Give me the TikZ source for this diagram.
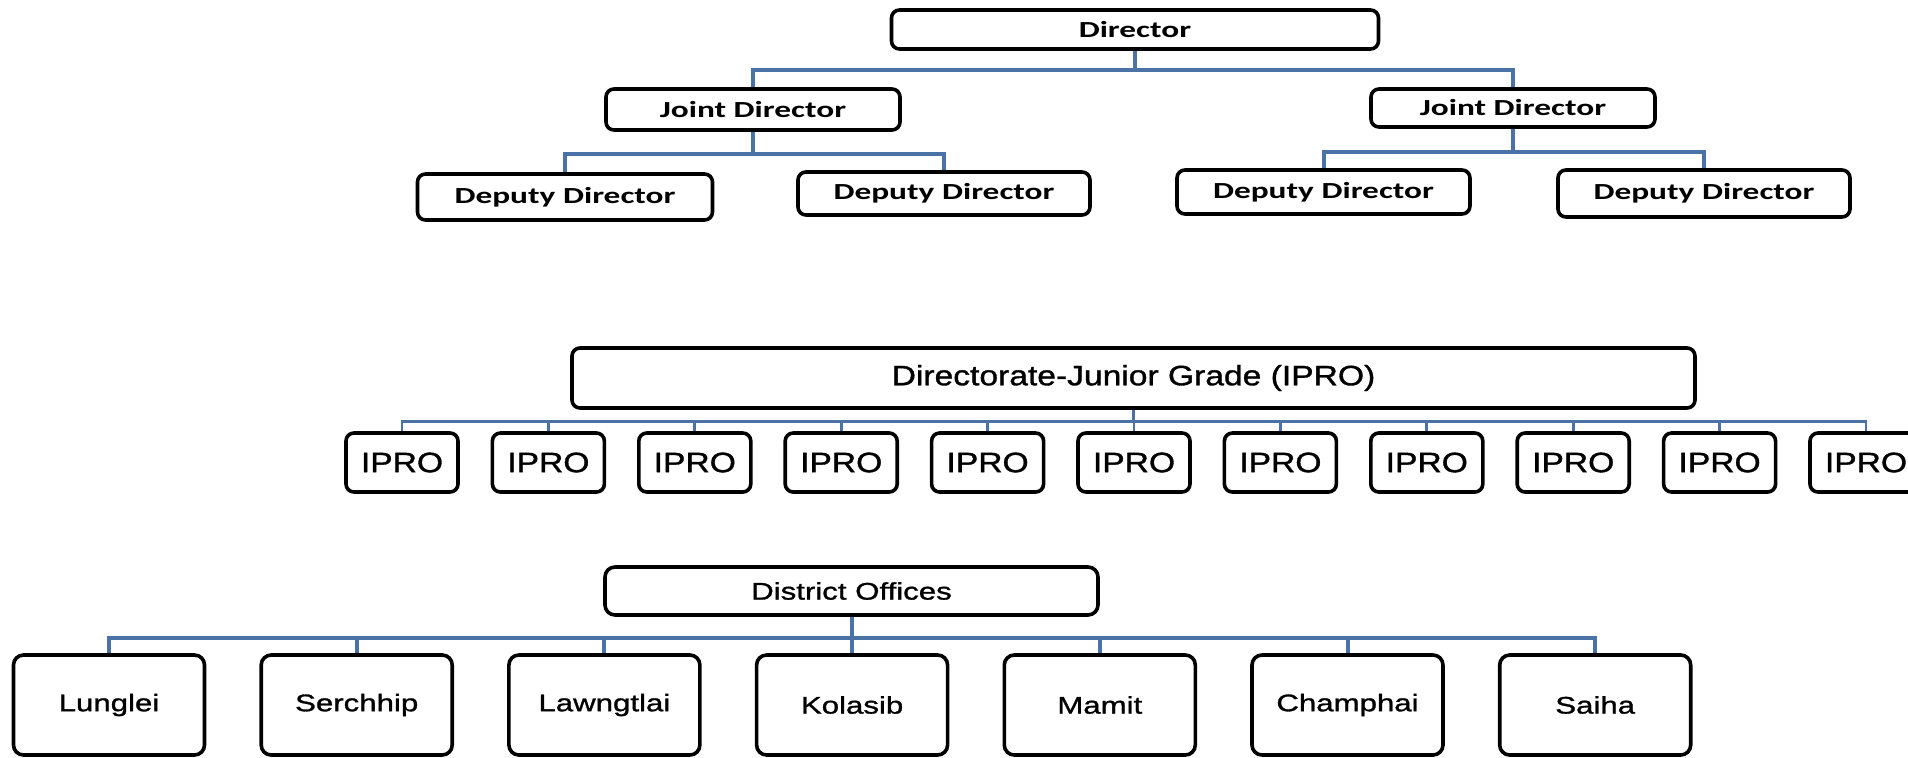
\documentclass[tikz,border=0pt]{standalone}
\usepackage{fontspec}
\usepackage{tikz}
\usetikzlibrary{positioning, calc}

\newfontfamily\topfont[FakeStretch=1.45]{Carlito}
\newfontfamily\gradefont[FakeStretch=1.2, FakeBold=1.2]{Liberation Sans}
\newfontfamily\distfont[FakeStretch=1.3, FakeBold=1.2]{Liberation Sans}
\definecolor{linkblue}{HTML}{4A72A6}

\begin{document}
\begin{tikzpicture}[
    x=0.5pt, y=-0.5pt,
    box/.style={draw, line width=1.8pt, rounded corners=4pt, inner sep=0pt, align=center},
    boxsize/.style 2 args={minimum width=#1*0.5pt, minimum height=#2*0.5pt},
    topbox/.style={box, font=\topfont\bfseries\fontsize{11.5}{13}\selectfont},
    gradebox/.style={box, font=\gradefont\fontsize{14}{16}\selectfont},
    distbox/.style={box, rounded corners=5pt, font=\distfont\fontsize{12}{14}\selectfont},
    link/.style={draw=linkblue, line width=2pt},
    thinlink/.style={draw=linkblue, line width=1.4pt}
]
\useasboundingbox (0,0) rectangle (1908,757);

% Director
\node[topbox, boxsize={487}{39}] (dir) at (1135,29.5) {Director};

% Joint Directors
\node[topbox, boxsize={294}{41}] (jdl) at (753,109.5) {Joint Director};
\node[topbox, boxsize={284}{38}] (jdr) at (1513,108) {Joint Director};

% Deputy Directors
\node[topbox, boxsize={295}{46}] (dd1) at (565,197) {Deputy Director};
\node[topbox, boxsize={292}{43}] (dd2) at (944,193.5) {Deputy Director};
\node[topbox, boxsize={293}{44}] (dd3) at (1323.5,192) {Deputy Director};
\node[topbox, boxsize={292}{47}] (dd4) at (1704,193.5) {Deputy Director};

\draw[link] (dir.south) -- ++(0,19) -| (jdl.north);
\draw[link] (dir.south) -- ++(0,19) -| (jdr.north);
\draw[link] (jdl.south) -- ++(0,22) -| (dd1.north);
\draw[link] (jdl.south) -- ++(0,22) -| (dd2.north);
\draw[link] (jdr.south) -- ++(0,23) -| (dd3.north);
\draw[link] (jdr.south) -- ++(0,23) -| (dd4.north);

% Directorate-Junior Grade
\node[gradebox, boxsize={1123}{60}] (grade) at (1133.5,378) {Directorate-Junior Grade (IPRO)};

\foreach \i in {0,...,10} {
    \node[gradebox, boxsize={112}{59}] (ipro\i) at ({402+146.4*\i},462.5) {IPRO};
    \draw[thinlink] (grade.south) -- ++(0,12) -| (ipro\i.north);
}

% District Offices
\node[distbox, boxsize={493}{48}] (dist) at (851.5,591) {District Offices};

\foreach \name [count=\i from 0] in {Lunglei, Serchhip, Lawngtlai, Kolasib, Mamit, Champhai, Saiha} {
    \node[distbox, boxsize={191}{100}] (off\i) at ({109+247.7*\i},705) {\name};
    \draw[link] (dist.south) -- ++(0,21) -| (off\i.north);
}

\end{tikzpicture}
\end{document}
